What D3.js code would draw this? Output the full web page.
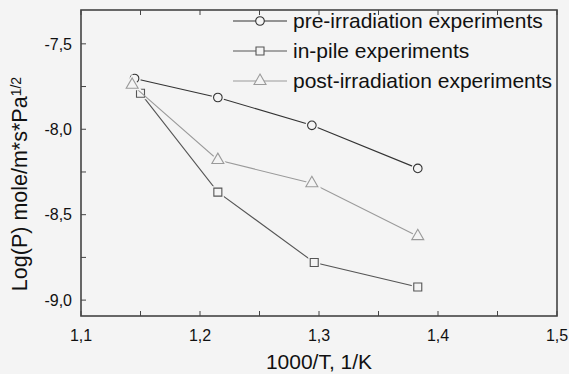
<!DOCTYPE html>
<html>
<head>
  <meta charset="utf-8">
  <script src="https://d3js.org/d3.v7.min.js"></script>
  <style>
    body { margin: 0; background: #f4f4f4; }
    text { font-family: "Liberation Sans", Arial, sans-serif; fill: #111; }
  </style>
</head>
<body>
<div id="chart"></div>
<script>
// data
var seriesNames = ['pre-irradiation experiments', 'in-pile experiments', 'post-irradiation experiments'];
var preX  = [1.145, 1.215, 1.294, 1.383];
var preY  = [-7.703, -7.814, -7.977, -8.229];
var pileX = [1.150, 1.215, 1.296, 1.383];
var pileY = [-7.789, -8.368, -8.780, -8.923];
var postX = [1.143, 1.215, 1.294, 1.383];
var postY = [-7.740, -8.180, -8.316, -8.626];
var xTicks = [1.1, 1.2, 1.3, 1.4, 1.5];
var yTicks = [-7.5, -8.0, -8.5, -9.0];

var W = 569, H = 374;
var margin = { top: 10, right: 12, bottom: 58, left: 81 };
var width = W - margin.left - margin.right;
var height = H - margin.top - margin.bottom;
var bg = '#f4f4f4';

// comma as decimal mark, plain hyphen for minus
var fmt = d3.formatLocale({ decimal: ',', thousands: ' ', grouping: [3], currency: ['', ''], minus: '-' }).format('.1f');

var svg = d3.select('#chart').append('svg')
  .attr('width', W).attr('height', H);
svg.append('rect').attr('width', W).attr('height', H).attr('fill', bg);

var x = d3.scaleLinear().domain([1.1, 1.5]).range([0, width]);
var y = d3.scaleLinear().domain([-9.093, -7.302]).range([height, 0]);

var g = svg.append('g')
  .attr('transform', 'translate(' + margin.left + ',' + margin.top + ')');

// frame
g.append('rect')
  .attr('width', width).attr('height', height)
  .attr('fill', 'none').attr('stroke', '#444').attr('stroke-width', 1.6);

// ticks (inward), minor every 0.05 on x and 0.25 on y
var xMinor = d3.range(1.1, 1.5001, 0.05);
var yMinor = d3.range(-9.0, -7.3, 0.25);
g.selectAll('.xt-b').data(xMinor).enter().append('line')
  .attr('x1', function(d) { return x(d); }).attr('x2', function(d) { return x(d); })
  .attr('y1', height).attr('y2', height - 5)
  .attr('stroke', '#444').attr('stroke-width', 1);
g.selectAll('.xt-t').data(xMinor).enter().append('line')
  .attr('x1', function(d) { return x(d); }).attr('x2', function(d) { return x(d); })
  .attr('y1', 0).attr('y2', 5)
  .attr('stroke', '#444').attr('stroke-width', 1);
g.selectAll('.yt').data(yMinor).enter().append('line')
  .attr('x1', 0).attr('x2', 5)
  .attr('y1', function(d) { return y(d); }).attr('y2', function(d) { return y(d); })
  .attr('stroke', '#444').attr('stroke-width', 1);

// tick labels
g.selectAll('.xl').data(xTicks).enter().append('text')
  .attr('x', function(d) { return x(d); })
  .attr('y', height + 25)
  .attr('text-anchor', 'middle')
  .style('font-size', '16px')
  .text(function(d) { return fmt(d); });
g.selectAll('.yl').data(yTicks).enter().append('text')
  .attr('x', -9)
  .attr('y', function(d) { return y(d); })
  .attr('dy', '0.36em')
  .attr('text-anchor', 'end')
  .style('font-size', '16px')
  .text(function(d) { return fmt(d); });

// axis titles
svg.append('text')
  .attr('x', margin.left + x(1.3))
  .attr('y', 369)
  .attr('text-anchor', 'middle')
  .style('font-size', '21px')
  .text('1000/T, 1/K');

var yt = svg.append('text')
  .attr('transform', 'translate(27,184) rotate(-90)')
  .attr('text-anchor', 'middle')
  .style('font-size', '21.5px');
yt.append('tspan').text('Log(P) mole/m*s*Pa');
yt.append('tspan').attr('dy', '-0.45em').style('font-size', '14px').text('1/2');

// series
var series = [
  { name: seriesNames[0], xs: preX, ys: preY, color: '#333', sym: d3.symbolCircle, size: 58 },
  { name: seriesNames[1], xs: pileX, ys: pileY, color: '#555', sym: d3.symbolSquare, size: 64 },
  { name: seriesNames[2], xs: postX, ys: postY, color: '#9a9a9a', sym: d3.symbolTriangle, size: 62 }
];

var line = d3.line()
  .x(function(d) { return x(d[0]); })
  .y(function(d) { return y(d[1]); });

series.forEach(function(s) {
  var pts = s.xs.map(function(v, i) { return [v, s.ys[i]]; });
  g.append('path')
    .attr('d', line(pts))
    .attr('fill', 'none').attr('stroke', s.color).attr('stroke-width', 1.1);
  var sym = d3.symbol().type(s.sym).size(s.size);
  // background halo makes the small gap between line and marker
  g.selectAll(null).data(pts).enter().append('path')
    .attr('d', sym)
    .attr('transform', function(d) { return 'translate(' + x(d[0]) + ',' + y(d[1]) + ')'; })
    .attr('fill', bg).attr('stroke', bg).attr('stroke-width', 4);
  g.selectAll(null).data(pts).enter().append('path')
    .attr('d', sym)
    .attr('transform', function(d) { return 'translate(' + x(d[0]) + ',' + y(d[1]) + ')'; })
    .attr('fill', bg).attr('stroke', s.color).attr('stroke-width', 1.1);
});

// legend
var legend = svg.append('g');
series.forEach(function(s, i) {
  var ly = 21 + i * 30;
  legend.append('line')
    .attr('x1', 233).attr('x2', 287).attr('y1', ly).attr('y2', ly)
    .attr('stroke', s.color).attr('stroke-width', 1.1);
  legend.append('path')
    .attr('d', d3.symbol().type(s.sym).size(s.size))
    .attr('transform', 'translate(260,' + ly + ')')
    .attr('fill', bg).attr('stroke', s.color).attr('stroke-width', 1.1);
  legend.append('text')
    .attr('x', 293).attr('y', ly)
    .attr('dy', '0.33em')
    .style('font-size', '21px')
    .text(s.name);
});
</script>
</body>
</html>
